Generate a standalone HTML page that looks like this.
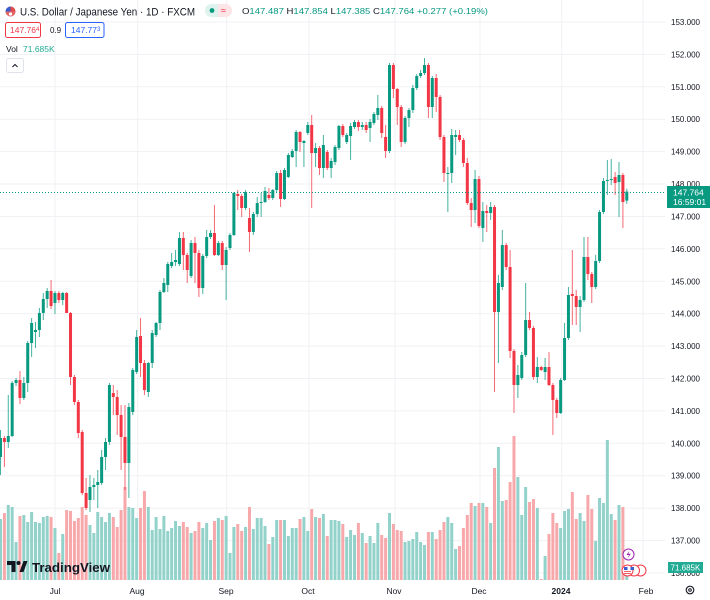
<!DOCTYPE html>
<html><head><meta charset="utf-8">
<style>
html,body{margin:0;padding:0;background:#fff;width:710px;height:600px;overflow:hidden}
svg{display:block;font-family:"Liberation Sans",Arial,sans-serif}
</style></head><body>
<svg id="s" width="710" height="600" viewBox="0 0 710 600" xmlns="http://www.w3.org/2000/svg">
<rect width="710" height="600" fill="#fff"/>
<g id="grid"></g>
<g id="vol"></g>
<g id="cdl"></g>
<line x1="0" y1="192.5" x2="665" y2="192.5" stroke="#089981" stroke-width="1" stroke-dasharray="1,2"/>
<g id="axis" font-size="8.5" fill="#131722"></g>

<!-- current price label -->
<rect x="667" y="186" width="43" height="22" fill="#089981"/>
<text x="673" y="195.5" font-size="8.5" fill="#fff">147.764</text>
<text x="673" y="205" font-size="8.5" fill="#fff">16:59:01</text>
<!-- volume label -->
<rect x="668" y="562" width="35" height="11" fill="#22ab94"/>
<text x="670.5" y="570.5" font-size="8" fill="#fff">71.685K</text>

<!-- time axis -->
<g font-size="8.5" fill="#131722" text-anchor="middle">
<text x="55" y="594">Jul</text>
<text x="137" y="594">Aug</text>
<text x="226" y="594">Sep</text>
<text x="308" y="594">Oct</text>
<text x="394" y="594">Nov</text>
<text x="479" y="594">Dec</text>
<text x="561" y="594" font-weight="bold">2024</text>
<text x="646" y="594">Feb</text>
</g>
<circle cx="690" cy="590" r="3.8" fill="none" stroke="#131722" stroke-width="1.1"/>
<circle cx="690" cy="590" r="1.3" fill="none" stroke="#131722" stroke-width="1"/>

<!-- header -->
<circle cx="10.5" cy="11.5" r="5" fill="#fff" stroke="#e0e3eb" stroke-width="0.5"/>
<path d="M10.5 6.5 A5 5 0 0 0 5.5 11.5 H10.5 Z" fill="#3a5ccc"/>
<path d="M10.5 6.5 A5 5 0 0 1 15.5 11.5 H10.5 Z" fill="#e04a4a"/>
<path d="M5.5 11.5 A5 5 0 0 0 15.5 11.5 Z" fill="#e04a4a" opacity="0.85"/>
<circle cx="10.5" cy="14" r="1.6" fill="#fff"/>
<text x="20" y="15.5" font-size="11" fill="#131722" textLength="175" lengthAdjust="spacingAndGlyphs">U.S. Dollar / Japanese Yen · 1D · FXCM</text>

<rect x="205" y="4" width="27" height="13" rx="6.5" fill="#fde4e6"/>
<path d="M211.5 4 H218 V17 H211.5 A6.5 6.5 0 0 1 211.5 4 Z" fill="#dff3ee"/>
<circle cx="212" cy="10.5" r="2.4" fill="#089981"/>
<text x="221" y="13.5" font-size="9" fill="#f23645">≈</text>

<text x="242" y="14" font-size="8.5" textLength="246" lengthAdjust="spacingAndGlyphs"><tspan fill="#131722">O</tspan><tspan fill="#089981">147.487 </tspan><tspan fill="#131722">H</tspan><tspan fill="#089981">147.854 </tspan><tspan fill="#131722">L</tspan><tspan fill="#089981">147.385 </tspan><tspan fill="#131722">C</tspan><tspan fill="#089981">147.764 +0.277 (+0.19%)</tspan></text>

<rect x="5.5" y="22.5" width="35" height="15" rx="2" fill="#fff" stroke="#f23645" stroke-width="1"/>
<text x="10" y="33" font-size="8.5" fill="#f23645">147.76<tspan font-size="6" dy="-2">4</tspan></text>
<text x="50" y="33" font-size="8" fill="#131722">0.9</text>
<rect x="65.5" y="22.5" width="38.5" height="15" rx="2" fill="#fff" stroke="#2962ff" stroke-width="1"/>
<text x="71" y="33" font-size="8.5" fill="#2962ff">147.77<tspan font-size="6" dy="-2">3</tspan></text>

<text x="6" y="52" font-size="8.5" fill="#131722">Vol</text>
<text x="23" y="52" font-size="8.5" fill="#22ab94">71.685K</text>

<rect x="6.5" y="58.5" width="17" height="14" rx="2" fill="#fff" stroke="#e0e3eb" stroke-width="1"/>
<path d="M12.5 67 L15 64.5 L17.5 67" fill="none" stroke="#131722" stroke-width="1"/>

<!-- TradingView logo -->
<path d="M7 561 H15.5 V572 H11.5 V565 H7 Z" fill="#131722"/>
<circle cx="18.5" cy="563" r="2" fill="#131722"/>
<path d="M19.5 572 L23.5 561 H27.5 L23.5 572 Z" fill="#131722"/>
<text x="32" y="572" font-size="13" font-weight="bold" fill="#131722" textLength="78" lengthAdjust="spacingAndGlyphs">TradingView</text>

<!-- event icons -->
<circle cx="628.5" cy="554.5" r="5.5" fill="#fff" stroke="#9c27b0" stroke-width="1"/>
<path d="M629.5 550.5 L626.5 555 H629 L627.5 558.5 L630.8 553.8 H628.3 Z" fill="#9c27b0"/>
<g stroke="#f23645" stroke-width="1">
<circle cx="640.5" cy="570.5" r="5.5" fill="#fff"/>
<circle cx="634" cy="570.5" r="5.5" fill="#fff"/>
<circle cx="627.5" cy="570.5" r="5.5" fill="#fff"/>
</g>
<rect x="624" y="567" width="3.5" height="3" fill="#3a5ccc"/>
<g stroke="#f23645" stroke-width="0.8"><line x1="624" y1="571.5" x2="631" y2="571.5"/><line x1="624" y1="573.5" x2="631" y2="573.5"/></g>
<rect x="630.5" y="567" width="3.5" height="3" fill="#3a5ccc"/>
</svg>
<script>
(function(){
var D=[[457,438,430,475],[438,442,436,467],[442,436,395,448],[436,383,381,437],[383,380,378,386],[380,398,371,404],[398,383,377,400],[383,343,341,392],[343,323,318,357],[332,330,322,348],
[330,313,308,337],[313,299,293,320],[299,291,288,308],[291,306,280,309],[303,293,291,314],[293,300,291,303],[300,293,292,305],[293,313,292,313],[313,377,312,385],[377,402,375,405],
[402,433,400,438],[432,493,430,495],[493,508,478,510],[500,487,475,512],[487,485,478,500],[485,482,470,508],[483,457,450,485],[457,442,438,470],[442,385,383,445],[393,397,385,415],
[397,415,390,435],[415,437,405,470],[437,463,405,490],[463,407,403,498],[412,370,368,415],[372,337,330,374],[336,363,318,377],[363,390,360,395],[392,363,362,397],[363,333,330,368],
[335,323,322,337],[323,292,290,330],[292,283,278,293],[285,264,262,292],[266,262,253,268],[262,260,250,266],[264,238,232,266],[238,255,232,270],[255,270,253,283],[276,243,240,278],
[243,253,237,283],[253,288,250,297],[288,256,254,294],[256,237,230,258],[237,233,230,239],[233,255,205,256],[255,243,241,256],[243,265,241,270],[265,250,247,300],[248,235,233,250],
[235,193,192,236],[194,196,190,210],[196,208,194,217],[208,192,190,210],[218,232,208,252],[232,214,212,235],[214,203,197,217],[203,202,193,217],[202,191,187,203],[195,198,188,200],
[198,190,189,200],[190,173,171,192],[173,199,170,207],[199,170,168,200],[177,155,153,178],[157,151,149,158],[151,132,130,167],[132,142,131,152],[143,141,140,167],[133,125,122,135],
[125,153,115,208],[153,148,143,167],[148,168,146,175],[168,145,135,178],[152,168,150,170],[168,161,158,178],[162,147,145,165],[148,126,125,150],[126,135,124,137],[142,135,133,144],
[136,126,123,160],[127,122,120,129],[122,127,120,131],[127,125,122,130],[125,130,122,133],[128,122,119,142],[123,114,112,125],[115,108,95,120],[108,133,106,138],[137,151,125,158],
[151,65,63,153],[65,89,63,98],[89,107,88,125],[107,142,105,147],[142,118,116,144],[118,110,108,127],[110,88,85,113],[88,76,74,90],[76,73,70,78],[73,65,58,75],
[65,107,63,118],[107,78,76,118],[78,97,74,112],[97,137,95,140],[137,173,135,182],[174,173,167,212],[173,135,129,183],[137,135,130,155],[135,140,130,142],[140,163,138,167],
[163,203,158,205],[203,210,198,227],[210,179,170,223],[179,226,176,228],[228,211,202,242],[211,213,205,232],[213,207,202,220],[207,312,205,392],[312,283,275,363],[287,245,230,290],
[245,267,243,270],[267,351,250,358],[351,385,349,413],[385,375,365,398],[378,355,352,380],[355,320,283,357],[320,328,312,330],[328,377,326,380],[377,367,357,383],[367,370,366,371],
[372,367,358,380],[367,385,352,386],[385,400,383,435],[400,413,398,418],[413,380,378,414],[380,338,323,381],[338,295,287,340],[294,296,250,325],[296,307,290,325],[307,300,296,332],
[300,257,237,302],[257,274,237,280],[274,287,272,303],[287,261,255,289],[261,212,210,263],[212,181,178,214],[181,180,160,195],[180,179,159,185],[177,183,172,195],[182,175,162,217],
[175,202,173,228],[200.6,191.6,188.7,203.9]];
var V=[519,513,505,507,542,516,515,522,512,522,523,517,516,517,528,553,534,510,511,521,
518,507,515,525,533,512,517,522,513,517,527,510,487,507,508,518,508,491,507,530,
517,529,516,531,528,521,526,522,527,533,531,522,528,523,540,521,518,520,516,553,
527,524,531,527,507,529,518,518,526,544,537,520,520,520,536,528,528,519,517,531,
509,517,518,514,536,520,520,521,524,537,530,535,523,533,543,536,543,523,535,538,
513,524,530,531,542,541,539,532,542,545,532,532,539,530,522,517,523,549,546,528,
515,503,506,503,503,507,523,468,447,501,500,482,436,477,515,487,502,499,508,579,
556,534,513,523,528,511,509,492,519,513,521,495,509,541,498,503,440,514,520,505,
507,567];
var UP="#089981",DN="#f23645",VUP="#92d2ca",VDN="#f7a8ab";
var g='',v='',c='',a='';
for(var p=153;p>=136;p--){var y=22+(153-p)*32.41;g+='<line x1="0" x2="665" y1="'+y.toFixed(1)+'" y2="'+y.toFixed(1)+'" stroke="#f0f1f4" stroke-width="1"/>';
a+='<text x="671" y="'+(y+3).toFixed(1)+'" textLength="29" lengthAdjust="spacingAndGlyphs">'+p+'.000</text>';}
[55,137.7,226.7,309,395,480,561.7,643].forEach(function(x){g+='<line x1="'+x+'" x2="'+x+'" y1="0" y2="580" stroke="#f0f1f4" stroke-width="1"/>';});
for(var i=0;i<D.length;i++){
 var d=D[i],cx=0.5+3.89*i,up=d[1]<=d[0];
 var col=up?UP:DN;
 var t=V[i];
 v+='<rect x="'+(cx-1.5).toFixed(2)+'" y="'+t+'" width="3" height="'+(580-t)+'" fill="'+(up?VUP:VDN)+'"/>';
 c+='<line x1="'+cx.toFixed(2)+'" x2="'+cx.toFixed(2)+'" y1="'+d[2]+'" y2="'+d[3]+'" stroke="'+col+'" stroke-width="1" opacity="0.75"/>';
 var top=Math.min(d[0],d[1]),h=Math.max(Math.abs(d[0]-d[1]),1);
 c+='<rect x="'+(cx-1.5).toFixed(2)+'" y="'+top+'" width="3" height="'+h+'" fill="'+col+'"/>';
}
document.getElementById('grid').innerHTML=g;
document.getElementById('vol').innerHTML=v;
document.getElementById('cdl').innerHTML=c;
document.getElementById('axis').innerHTML=a;
})();
</script>
</body></html>
